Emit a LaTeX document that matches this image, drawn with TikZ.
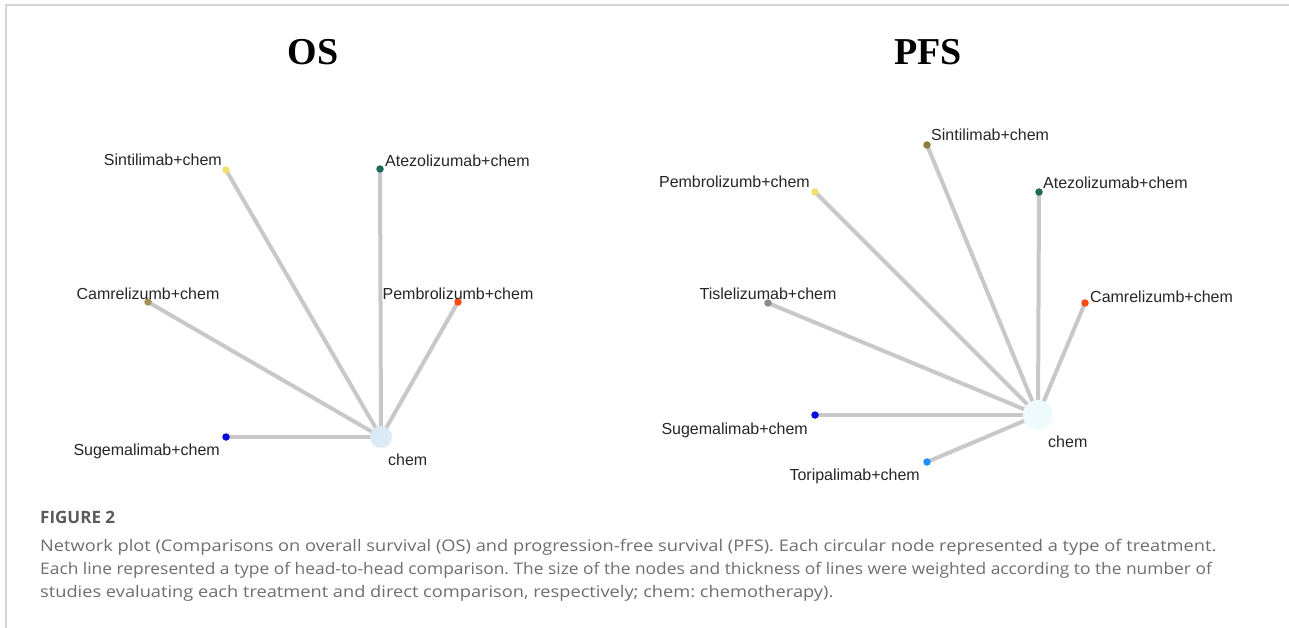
\documentclass[tikz,border=0pt]{standalone}
\usepackage{fontspec}
\setmainfont{Liberation Sans}
\newfontfamily\titlefont{Liberation Serif}
\newfontfamily\capfont[FakeStretch=1.14]{Open Sans}
\newfontfamily\capfontb[FakeStretch=1.085]{Open Sans}
\newfontfamily\figfont{Open Sans}
\usepackage{tikz}
\usetikzlibrary{backgrounds,positioning,calc}
\frenchspacing

\definecolor{edgegray}{HTML}{C8C8C8}
\definecolor{framegray}{HTML}{D6D6D6}
\definecolor{capgray}{HTML}{6E6E6E}
\definecolor{figgray}{HTML}{5A5A5A}
\definecolor{chemos}{HTML}{DCEAF6}
\definecolor{chempfs}{HTML}{EEFAFB}
\definecolor{paleyellow}{HTML}{F3E06A}
\definecolor{darkteal}{HTML}{1B6B5B}
\definecolor{khaki}{HTML}{A3905A}
\definecolor{olive}{HTML}{8A7E3E}
\definecolor{redorange}{HTML}{FF4A10}
\definecolor{deepblue}{HTML}{0A0ADC}
\definecolor{midgray}{HTML}{8C8C8C}
\definecolor{skyblue}{HTML}{1E90FF}

\begin{document}
\begin{tikzpicture}[x=1pt,y=-1pt,
  trt/.style={circle, inner sep=0pt, minimum size=7.5pt},
  chemnode/.style={circle, inner sep=0pt},
  lbl/.style={inner sep=0pt, font=\fontsize{16}{16}\selectfont, text=black!85},
  edge/.style={draw=edgegray, line width=4pt},
  ttl/.style={inner sep=0pt, font=\titlefont\bfseries\fontsize{38}{38}\selectfont},
  capline/.style={inner sep=0pt, anchor=base west, text=capgray, font=\capfont\fontsize{16}{16}\selectfont}]

\useasboundingbox (0,0) rectangle (1289,628);
\draw[draw=framegray, line width=2pt] (6,628) -- (6,5) -- (1289,5);

\node at (313,52) [ttl] (os-title) {OS};
\node at (928,52) [ttl] (pfs-title) {PFS};

\node at (381,437) [chemnode, fill=chemos, minimum size=22pt] (os-chem) {};
\node at (226,170) [trt, fill=paleyellow] (os-sint) {};
\node at (380,169) [trt, fill=darkteal] (os-atez) {};
\node at (148,302) [trt, fill=khaki] (os-camr) {};
\node at (458,302) [trt, fill=redorange] (os-pemb) {};
\node at (226,437) [trt, fill=deepblue] (os-suge) {};

\node at (222,166) [lbl, anchor=base east] (os-sint-l) {Sintilimab+chem};
\node at (385,167) [lbl, anchor=base west] (os-atez-l) {Atezolizumab+chem};
\node at (148,299) [lbl, anchor=base] (os-camr-l) {Camrelizumb+chem};
\node at (458,299) [lbl, anchor=base] (os-pemb-l) {Pembrolizumb+chem};
\node at (220,455) [lbl, anchor=base east] (os-suge-l) {Sugemalimab+chem};
\node at (388,465) [lbl, anchor=base west] (os-chem-l) {chem};

\node at (1038,415) [chemnode, fill=chempfs, minimum size=30pt] (pfs-chem) {};
\node at (927,145) [trt, fill=olive] (pfs-sint) {};
\node at (815,192) [trt, fill=paleyellow] (pfs-pemb) {};
\node at (1039,192) [trt, fill=darkteal] (pfs-atez) {};
\node at (768,303) [trt, fill=midgray] (pfs-tisl) {};
\node at (1085,303) [trt, fill=redorange] (pfs-camr) {};
\node at (815,415) [trt, fill=deepblue] (pfs-suge) {};
\node at (927,462) [trt, fill=skyblue] (pfs-tori) {};

\node at (931,141) [lbl, anchor=base west] (pfs-sint-l) {Sintilimab+chem};
\node at (810,188) [lbl, anchor=base east] (pfs-pemb-l) {Pembrolizumb+chem};
\node at (1043,189) [lbl, anchor=base west] (pfs-atez-l) {Atezolizumab+chem};
\node at (768,299) [lbl, anchor=base] (pfs-tisl-l) {Tislelizumab+chem};
\node at (1090,302) [lbl, anchor=base west] (pfs-camr-l) {Camrelizumb+chem};
\node at (808,434) [lbl, anchor=base east] (pfs-suge-l) {Sugemalimab+chem};
\node at (920,480) [lbl, anchor=base east] (pfs-tori-l) {Toripalimab+chem};
\node at (1048,447) [lbl, anchor=base west] (pfs-chem-l) {chem};

\begin{scope}[on background layer]
\foreach \t in {sint,atez,camr,pemb,suge}
  \draw[edge] (os-chem.center) -- (os-\t.center);
\foreach \t in {sint,pemb,atez,tisl,camr,suge,tori}
  \draw[edge] (pfs-chem.center) -- (pfs-\t.center);
\end{scope}

\node at (40,523) [capline, text=figgray, font=\figfont\bfseries\fontsize{17}{17}\selectfont] (fig-no) {FIGURE 2};
\node at (40,551) [capline] (cap-a) {Network plot (Comparisons on overall survival (OS) and progression-free survival (PFS). Each circular node represented a type of treatment.};
\node at (40,574) [capline, font=\capfontb\fontsize{16}{16}\selectfont] (cap-b) {Each line represented a type of head-to-head comparison. The size of the nodes and thickness of lines were weighted according to the number of};
\node at (40,597) [capline] (cap-c) {studies evaluating each treatment and direct comparison, respectively; chem: chemotherapy).};

\end{tikzpicture}
\end{document}
